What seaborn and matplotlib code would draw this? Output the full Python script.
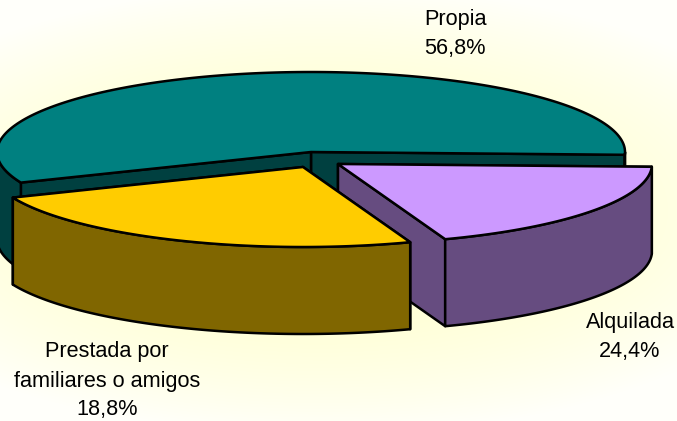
import numpy as np
import matplotlib
matplotlib.use("Agg")
import matplotlib.pyplot as plt
import seaborn as sns

# slice sizes as drawn, the printed labels below are kept as in the picture
slice_names = ["Propia", "Prestada", "Alquilada"]
slice_shares = [56.8, 24.3, 18.9]
top_colors = ["#008080", "#FFCC00", "#CC99FF"]
side_colors = ["#004040", "#806600", "#664C80"]
label_texts = ["Propia\n56,8%", "Prestada por\nfamiliares o amigos\n18,8%", "Alquilada\n24,4%"]

BG = "#FFFFE6"
START = -2.0
RX, RY, DEPTH = 314, 80, 87
CENTERS = [(311, 152), (303, 167), (338, 164)]
LABEL_POS = [(455, 34), (107, 381), (630, 337)]

sns.set_theme(style="white", rc={"figure.facecolor": BG, "axes.facecolor": BG})
plt.rcParams["font.family"] = ["Liberation Sans", "DejaVu Sans"]

fig = plt.figure(figsize=(6.77, 4.21), dpi=100)
ax = fig.add_axes([0, 0, 1, 1])
ax.set_xticks([])
ax.set_yticks([])
sns.despine(ax=ax, left=True, bottom=True)

# soft yellow glow behind the pie, paler toward the edges
gy, gx = np.mgrid[0:421, 0:677]
glow = ((gx - 320) / 520) ** 2 + ((gy - 210) / 230) ** 2
blue = np.clip(205 + 47 * glow, 205, 250) / 255
ax.imshow(np.dstack([np.ones_like(blue), np.ones_like(blue), blue]), extent=(0, 677, 421, 0), aspect="auto", zorder=-1)
ax.set_xlim(0, 677)
ax.set_ylim(421, 0)


def rim(center, a0, a1):
    t = np.radians(np.linspace(a0, a1, 200))
    return center[0] + RX * np.cos(t), center[1] - RY * np.sin(t)


def poly(xs, ys, color, z):
    ax.fill(xs, ys, facecolor=color, edgecolor="black", lw=1.8, joinstyle="round", zorder=z)


def wall(xs, ys, color, z):
    # extrude a top edge straight down by the pie depth
    poly(np.r_[xs, xs[::-1]], np.r_[ys, ys[::-1] + DEPTH], color, z)


angles = START + np.r_[0, np.cumsum(slice_shares)] * 3.6
layers = {"Propia": 0, "Alquilada": 10, "Prestada": 20}

for i, name in enumerate(slice_names):
    c = CENTERS[i]
    a0, a1 = angles[i], angles[i + 1]
    z = layers[name]
    # radial walls, the one nearest the viewer goes last
    for a in sorted((a0, a1), key=lambda v: -np.sin(np.radians(v))):
        ex, ey = rim(c, a, a)
        wall(np.array([c[0], ex[0]]), np.array([c[1], ey[0]]), side_colors[i], z + 1)
    # outer wall, only the part that faces the viewer
    lo, hi = max(a0, 180), min(a1, 360)
    if hi > lo:
        wall(*rim(c, lo, hi), side_colors[i], z + 2)
    if a0 < 0:
        wall(*rim(c, a0, 0), side_colors[i], z + 2)
    # top face
    rx, ry = rim(c, a0, a1)
    poly(np.r_[c[0], rx], np.r_[c[1], ry], top_colors[i], z + 3)

for text, (x, y) in zip(label_texts, LABEL_POS):
    ax.text(x, y, text, ha="center", va="center", fontsize=15.6, color="black", linespacing=1.5, zorder=40)

fig.savefig("out.png", dpi=100, facecolor=BG)
